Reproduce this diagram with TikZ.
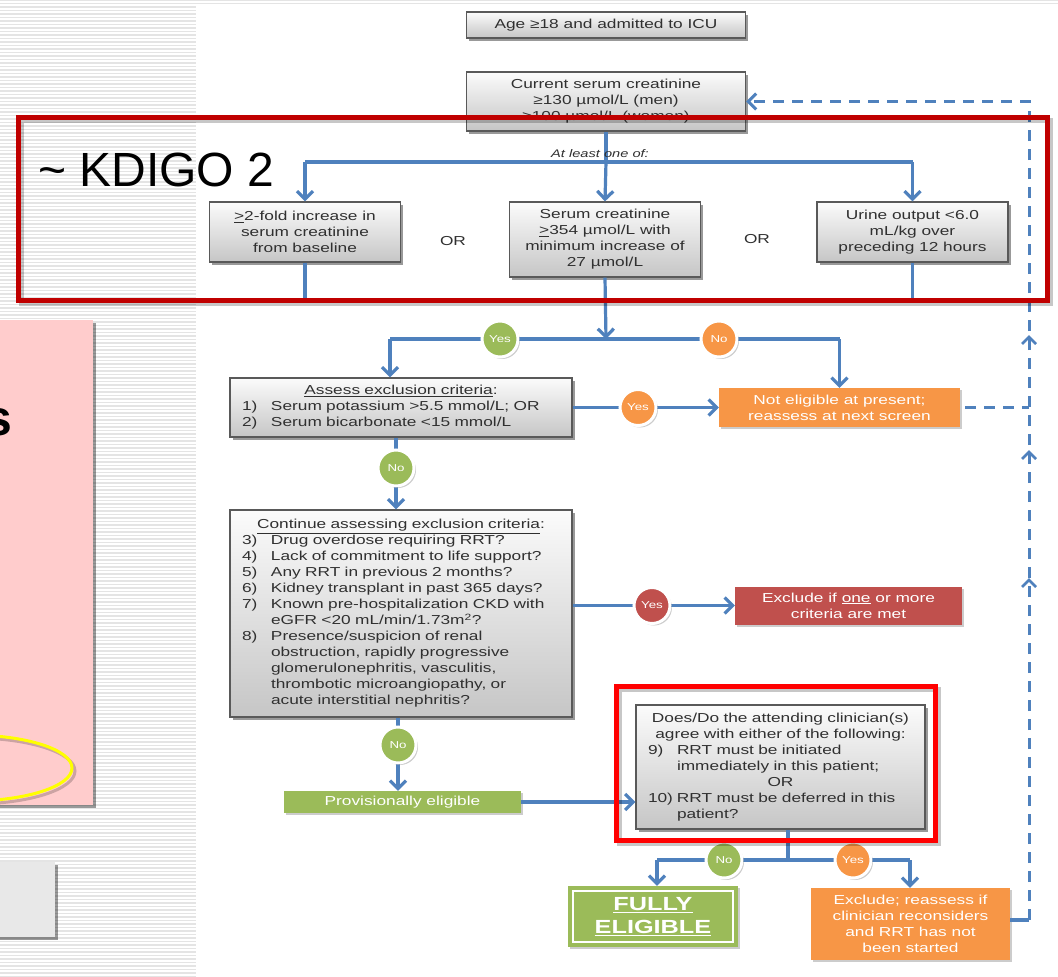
\documentclass[tikz,border=0pt]{standalone}
\usepackage{fontspec}
\setmainfont{Liberation Sans}
\newfontfamily\wide{Liberation Sans}[FakeStretch=1.33]
\usetikzlibrary{arrows.meta,shadows,calc}
\definecolor{cblue}{HTML}{4F81BD}
\definecolor{cgreen}{HTML}{9BBB59}
\definecolor{corange}{HTML}{F79646}
\definecolor{cred}{HTML}{C0504D}
\definecolor{kred}{HTML}{C00000}
\definecolor{hred}{HTML}{FF0000}
\definecolor{pinkbg}{HTML}{FFCCCC}
\definecolor{txt}{HTML}{303030}
\definecolor{stripe}{HTML}{E4E4E4}
\definecolor{ylw}{HTML}{FFFF00}
\newcommand{\hdl}[1]{\makebox[\hsize][c]{#1}}
\newcommand{\itmx}[2]{\makebox[29pt][l]{#1}#2}
\newcommand{\indx}[1]{\hspace*{29pt}#1}
\begin{document}
\begin{tikzpicture}[x=1pt,y=-1pt,
  shd/.style={drop shadow={shadow xshift=2.5pt,shadow yshift=-2.5pt,opacity=0.4,fill=black}},
  lshd/.style={drop shadow={shadow xshift=2pt,shadow yshift=-2pt,opacity=0.2,fill=black}},
  gbox/.style={draw=black!65,line width=1.2pt,top color=gray!3,bottom color=gray!45,shd,
    inner sep=0pt,font=\wide\fontsize{13}{16}\selectfont,text=txt},
  cbox/.style={fill=#1,lshd,inner sep=0pt,text=white,font=\wide\fontsize{13}{16}\selectfont},
  circ/.style={circle,fill=#1,draw=white,line width=3pt,minimum size=36pt,inner sep=0pt,
    text=white,font=\wide\fontsize{10}{10}\selectfont,lshd},
  conn/.style={draw=cblue,line width=3.2pt},
  flow/.style={conn,-{Straight Barb[length=8pt,width=16pt]}},
  dashline/.style={draw=cblue,line width=3pt,dash pattern=on 11pt off 8pt},
  orlabel/.style={font=\wide\fontsize{13}{16}\selectfont,text=txt}]
\useasboundingbox (0,0) rectangle (1058,977);
\clip (0,0) rectangle (1058,977);
% background
\fill[white] (0,0) rectangle (1058,977);
\foreach \yy in {0,3.5,...,977} \draw[stripe,line width=1.5pt] (0,\yy) -- (1058,\yy);
\fill[white] (196,5) rectangle (1058,977);
% left panel remnants
\fill[pinkbg,shd] (-5,320) rectangle (93,805);
\node[anchor=base east,font=\bfseries\fontsize{50}{50}\selectfont,inner sep=0pt] (sfrag) at (13,435) {s};
\draw[black,opacity=0.2,line width=3pt] (-27,771) ellipse [x radius=102, y radius=33];
\draw[ylw,line width=3pt] (-30,768) ellipse [x radius=102, y radius=33];
\fill[gray!18,shd] (-5,862) rectangle (55,937);

% top boxes
\node[gbox,minimum width=279pt,minimum height=26pt] (age) at (606,25) {Age ≥18 and admitted to ICU};
\node[gbox,minimum width=279pt,minimum height=59pt,align=center] (cur) at (606,101.5)
  {Current serum creatinine\\≥130 µmol/L (men)\\≥100 µmol/L (women)};
\node[gbox,minimum width=191pt,minimum height=60pt,align=center] (b1) at (305,232)
  {\underline{>}2-fold increase in\\serum creatinine\\from baseline};
\node[gbox,minimum width=191pt,minimum height=75pt,align=center] (b2) at (605,239.5)
  {Serum creatinine\\\underline{>}354 µmol/L with\\minimum increase of\\27 µmol/L};
\node[gbox,minimum width=191pt,minimum height=60pt,align=center] (b3) at (912.5,232)
  {Urine output <6.0\\mL/kg over\\preceding 12 hours};
\node[orlabel] (or1) at (453,241) {OR};
\node[orlabel] (or2) at (757,239) {OR};

\coordinate (jn) at (606,162);
\draw[conn] (cur.south) -- (jn);
\draw[conn] (b1.north |- jn) -- (b3.north |- jn);
\draw[flow] (jn) -- (b2.north);
\draw[flow] (b1.north |- jn) -- (b1.north);
\draw[flow] (b3.north |- jn) -- (b3.north);
\node[font=\wide\itshape\fontsize{11}{12}\selectfont,text=txt] (atleast) at (600,154) {At least one of:};
\coordinate (b1end) at (305,298);
\coordinate (b3end) at (912.5,298);
\draw[conn] (b1.south) -- (b1end);
\draw[conn] (b3.south) -- (b3end);

% exclusion 1
\coordinate (jy) at (606,339);
\coordinate (jl) at (390,339);
\coordinate (jr) at (839.5,339);
\draw[flow] (b2.south) -- (jy);
\draw[conn] (jl) -- (jr);
\node[gbox,minimum width=342pt,minimum height=59pt,text width=318pt,align=left] (assess) at (401,407.5)
  {\hdl{\underline{Assess exclusion criteria}:}\\
   \itmx{1)}{Serum potassium >5.5 mmol/L; OR}\\
   \itmx{2)}{Serum bicarbonate <15 mmol/L}};
\node[cbox=corange,minimum width=241pt,minimum height=39pt,align=center] (ne) at (839.5,407.5)
  {Not eligible at present;\\reassess at next screen};
\draw[flow] (jl) -- (jl |- assess.north);
\draw[flow] (jr) -- (ne.north);
\node[circ=cgreen] (yes1) at (500,339) {Yes};
\node[circ=corange] (no1) at (719,339) {No};
\draw[flow] (assess.east) -- (ne.west);
\node[circ=corange] (yes2) at (638,407.5) {Yes};

% exclusion 2
\node[gbox,minimum width=342pt,minimum height=207pt,text width=318pt,align=left] (cont) at (401,613.5)
  {\hdl{\underline{Continue assessing exclusion criteria}:}\\
   \itmx{3)}{Drug overdose requiring RRT?}\\
   \itmx{4)}{Lack of commitment to life support?}\\
   \itmx{5)}{Any RRT in previous 2 months?}\\
   \itmx{6)}{Kidney transplant in past 365 days?}\\
   \itmx{7)}{Known pre-hospitalization CKD with}\\
   \indx{eGFR <20 mL/min/1.73m\textsuperscript{2}?}\\
   \itmx{8)}{Presence/suspicion of renal}\\
   \indx{obstruction, rapidly progressive}\\
   \indx{glomerulonephritis, vasculitis,}\\
   \indx{thrombotic microangiopathy, or}\\
   \indx{acute interstitial nephritis?}};
\coordinate (no2c) at (396,468);
\draw[flow] (no2c |- assess.south) -- (no2c |- cont.north);
\node[circ=cgreen] (no2) at (no2c) {No};
\node[cbox=cred,minimum width=227pt,minimum height=38pt,align=center] (ex1) at (848.5,605.5)
  {Exclude if \underline{one} or more\\criteria are met};
\draw[flow] (cont.east |- ex1.west) -- (ex1.west);
\node[circ=cred] (yes3) at (652,605.5) {Yes};

% provisional / question
\node[cbox=cgreen,minimum width=237pt,minimum height=22pt] (prov) at (402.5,802) {Provisionally eligible};
\coordinate (no4c) at (398,745);
\draw[flow] (no4c |- cont.south) -- (no4c |- prov.north);
\node[circ=cgreen] (no4) at (no4c) {No};
\node[gbox,minimum width=289pt,minimum height=124pt,text width=265pt,align=left] (q) at (780.5,767)
  {\hdl{Does/Do the attending clinician(s)}\\
   \hdl{agree with either of the following:}\\
   \itmx{9)}{RRT must be initiated}\\
   \indx{immediately in this patient;}\\
   \hdl{OR}\\
   \itmx{10)}{RRT must be deferred in this}\\
   \indx{patient?}};
\draw[flow] (prov.east) -- (q.west |- prov.east);

% bottom
\node[cbox=cgreen,minimum width=170pt,minimum height=61pt,align=center,
  font=\wide\bfseries\fontsize{19}{23}\selectfont] (fully) at (653,916.5)
  {\underline{FULLY}\\\underline{ELIGIBLE}};
\draw[white,line width=1.5pt] ($(fully.north west)+(5,5)$) rectangle ($(fully.south east)+(-5,-5)$);
\node[cbox=corange,minimum width=199pt,minimum height=72pt,align=center] (ex2) at (910.5,924)
  {Exclude; reassess if\\clinician reconsiders\\and RRT has not\\been started};
\coordinate (qs) at (788,860);
\coordinate (bl) at (657,860);
\coordinate (br) at (910,860);
\draw[conn] (qs |- q.south) -- (qs);
\draw[conn] (bl) -- (br);
\draw[flow] (bl) -- (bl |- fully.north);
\draw[flow] (br) -- (br |- ex2.north);
\node[circ=cgreen] (no5) at (724,860) {No};
\node[circ=corange] (yes5) at (853,860) {Yes};

% return dashed loop
\coordinate (rb) at (1029,920);
\coordinate (rt) at (1029,101.5);
\coordinate (rm) at (1029,407.5);
\draw[conn] (ex2.east |- rb) -- (rb);
\draw[dashline,-{Straight Barb[length=8pt,width=16pt]}] (rb) -- (rt) -- (cur.east);
\draw[dashline] ($(ne.east)+(5,0)$) -- (rm);
\foreach \yy in {337,452,580}
  \draw[cblue,line width=2.5pt] (1022,\yy+7) -- (1029,\yy) -- (1036,\yy+7);

% highlight frames
\draw[black,opacity=0.22,line width=5pt] (21,120) rectangle (1050,303);
\draw[kred,line width=5pt] (18,117) rectangle (1047,300);
\node[anchor=base west,font=\fontsize{48}{50}\selectfont,inner sep=0pt] (kdigo) at (38,186) {\textasciitilde{} KDIGO 2};
\draw[black,opacity=0.22,line width=5pt] (619,689) rectangle (938,843);
\draw[hred,line width=5pt] (616,686) rectangle (935,840);
\end{tikzpicture}
\end{document}
